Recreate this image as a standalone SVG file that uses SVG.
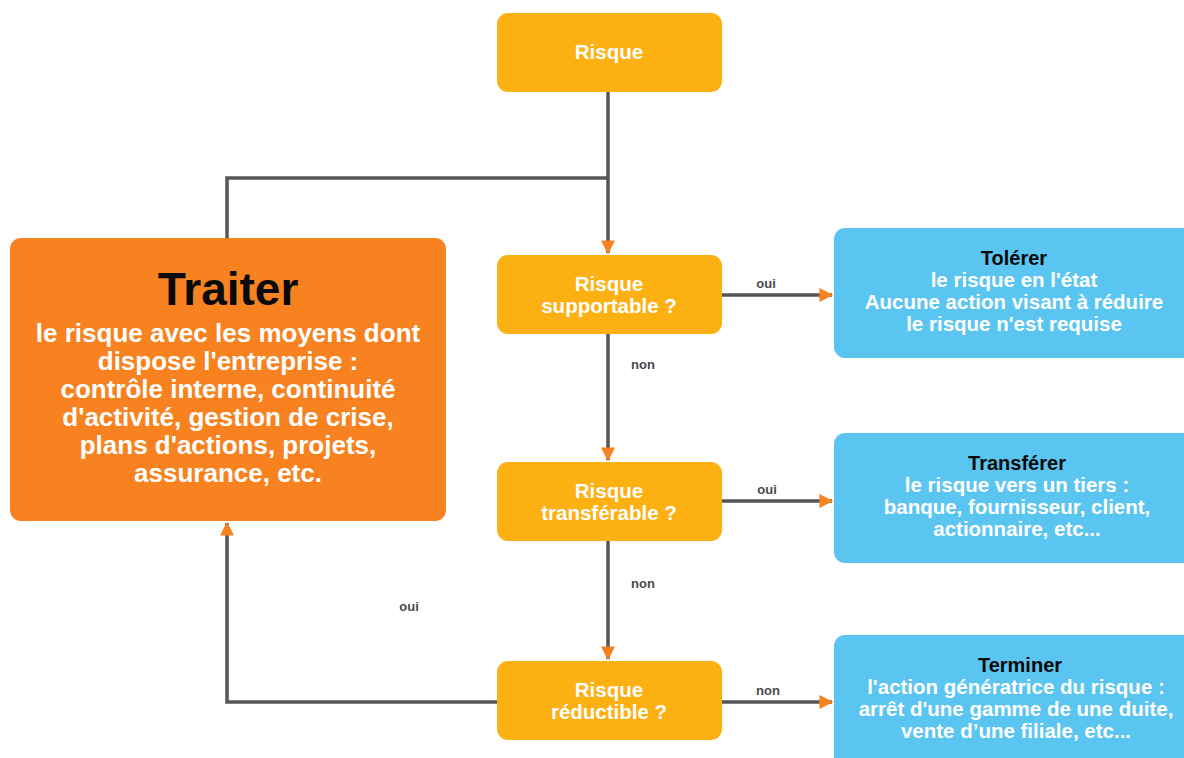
<svg xmlns="http://www.w3.org/2000/svg" width="1184" height="758" viewBox="0 0 1184 758">
<style>
.dec{fill:#FDB012}
.blue{fill:#5BC5F2}
.wt{fill:#fff;font-family:"Liberation Sans",Arial,sans-serif;font-weight:bold;text-anchor:middle}
.bt{fill:#0a0a0a;font-family:"Liberation Sans",Arial,sans-serif;font-weight:bold;text-anchor:middle}
.lbl{fill:#4a4a4a;font-family:"Liberation Sans",Arial,sans-serif;font-weight:bold;font-size:13px;text-anchor:middle}
.ln{fill:none;stroke:#555;stroke-width:3.5}
</style>
<defs>
<marker id="ah" viewBox="0 0 10 10" refX="9" refY="5" markerWidth="4" markerHeight="4" orient="auto" markerUnits="strokeWidth">
<path d="M0,0 L10,5 L0,10 z" fill="#F7821F"/>
</marker>
</defs>
<rect width="1184" height="758" fill="#fff"/>
<g id="connectors">
<path class="ln" d="M608,92 V253" marker-end="url(#ah)"/>
<path class="ln" d="M227,238 V178 H608"/>
<path class="ln" d="M722,295 H832" marker-end="url(#ah)"/>
<path class="ln" d="M608,334 V460" marker-end="url(#ah)"/>
<path class="ln" d="M722,501 H832" marker-end="url(#ah)"/>
<path class="ln" d="M608,541 V659" marker-end="url(#ah)"/>
<path class="ln" d="M722,702 H832" marker-end="url(#ah)"/>
<path class="ln" d="M497,702 H227 V523" marker-end="url(#ah)"/>
<text class="lbl" x="766" y="288">oui</text>
<text class="lbl" x="643" y="369">non</text>
<text class="lbl" x="767" y="494">oui</text>
<text class="lbl" x="643" y="588">non</text>
<text class="lbl" x="409" y="611">oui</text>
<text class="lbl" x="768" y="695">non</text>
</g>
<g id="risque">
<rect class="dec" x="497" y="13" width="225" height="79" rx="11"/>
<text class="wt" x="609" y="59" font-size="20.5">Risque</text>
</g>
<g id="supportable">
<rect class="dec" x="497" y="255" width="225" height="79" rx="11"/>
<text class="wt" x="609" y="291" font-size="20.5">Risque</text>
<text class="wt" x="609" y="313" font-size="20.5">supportable ?</text>
</g>
<g id="transferable">
<rect class="dec" x="497" y="462" width="225" height="79" rx="11"/>
<text class="wt" x="609" y="498" font-size="20.5">Risque</text>
<text class="wt" x="609" y="520" font-size="20.5">transférable ?</text>
</g>
<g id="reductible">
<rect class="dec" x="497" y="661" width="225" height="79" rx="11"/>
<text class="wt" x="609" y="697" font-size="20.5">Risque</text>
<text class="wt" x="609" y="719" font-size="20.5">réductible ?</text>
</g>
<g id="traiter">
<rect x="10" y="238" width="436" height="283" rx="11" fill="#F7821F"/>
<text class="bt" x="228" y="305" font-size="46">Traiter</text>
<text class="wt" x="228" y="342" font-size="26">le risque avec les moyens dont</text>
<text class="wt" x="228" y="370" font-size="26">dispose l'entreprise :</text>
<text class="wt" x="228" y="398" font-size="26">contrôle interne, continuité</text>
<text class="wt" x="228" y="426" font-size="26">d'activité, gestion de crise,</text>
<text class="wt" x="228" y="454" font-size="26">plans d'actions, projets,</text>
<text class="wt" x="228" y="482" font-size="26">assurance, etc.</text>
</g>
<g id="tolerer">
<rect class="blue" x="834" y="228" width="370" height="130" rx="11"/>
<text class="bt" x="1014" y="265" font-size="20">Tolérer</text>
<text class="wt" x="1014" y="287" font-size="20.5">le risque en l'état</text>
<text class="wt" x="1014" y="309" font-size="20.5">Aucune action visant à réduire</text>
<text class="wt" x="1014" y="331" font-size="20.5">le risque n'est requise</text>
</g>
<g id="transferer">
<rect class="blue" x="834" y="433" width="370" height="130" rx="11"/>
<text class="bt" x="1017" y="470" font-size="20">Transférer</text>
<text class="wt" x="1017" y="492" font-size="20.5">le risque vers un tiers :</text>
<text class="wt" x="1017" y="514" font-size="20.5">banque, fournisseur, client,</text>
<text class="wt" x="1017" y="536" font-size="20.5">actionnaire, etc...</text>
</g>
<g id="terminer">
<rect class="blue" x="834" y="635" width="370" height="140" rx="11"/>
<text class="bt" x="1020" y="672" font-size="20">Terminer</text>
<text class="wt" x="1016" y="694" font-size="20.5">l'action génératrice du risque :</text>
<text class="wt" x="1016" y="716" font-size="20.5">arrêt d'une gamme de une duite,</text>
<text class="wt" x="1016" y="738" font-size="20.5">vente d’une filiale, etc...</text>
</g>
</svg>
